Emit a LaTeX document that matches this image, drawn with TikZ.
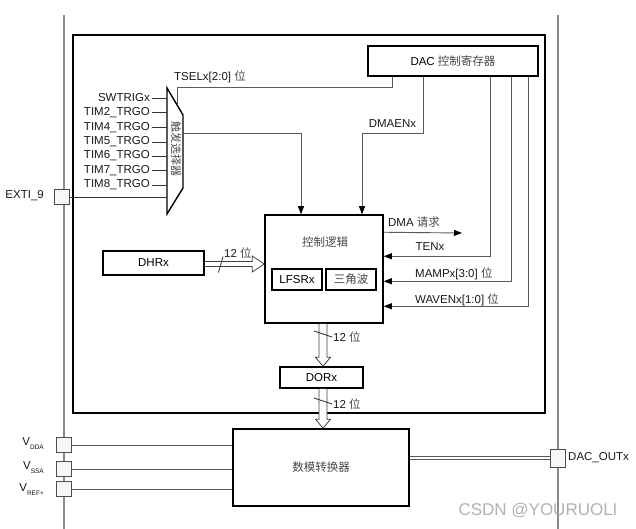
\documentclass[tikz,border=0pt]{standalone}
\usepackage{fontspec}
\setmainfont{Liberation Sans}
\newfontfamily\cjk{Noto Sans CJK SC}
\usetikzlibrary{arrows.meta,calc}
\newcommand\zh[1]{{\cjk\color{black!72}#1}}
\newcommand\labfont{\fontsize{11.5pt}{13pt}\selectfont}
\newcommand\subf[1]{\raisebox{-4pt}{\fontsize{6.5pt}{7pt}\selectfont #1}}
\tikzset{
  box/.style={draw=black, line width=1.5pt, inner sep=0pt, font=\labfont},
  pinbox/.style={draw=black!70, fill=black!3, line width=0.8pt, minimum width=15pt, minimum height=15pt, inner sep=0pt},
  conn/.style={draw=black!65, line width=0.9pt},
  arr/.style={conn, -{Triangle[length=8pt,width=6pt,color=black]}},
  inl/.style={draw=black!80, line width=0.8pt},
  lab/.style={font=\labfont, inner sep=0pt, text=black!90},
  bus/.style={draw=black!75, line width=0.8pt, fill=white, line join=miter},
  guide/.style={draw=black!45, line width=1.5pt},
}
\newcommand\vbus[2]{%
  \draw[bus] ($#1+(-4,0)$) -- ($#2+(-4,-9)$) -- ($#2+(-7.5,-9)$) -- #2 -- ($#2+(7.5,-9)$) -- ($#2+(4,-9)$) -- ($#1+(4,0)$);}
\newcommand\hbus[2]{%
  \draw[bus] ($#1+(0,-2.5)$) -- ($#2+(-12,-2.5)$) -- ($#2+(-12,-8)$) -- #2 -- ($#2+(-12,8)$) -- ($#2+(-12,2.5)$) -- ($#1+(0,2.5)$);}
\begin{document}
\begin{tikzpicture}[x=1pt,y=-1pt]
\useasboundingbox (0,0) rectangle (636,529);
% outer guide lines
\draw[guide] (64,15) -- (64,529);
\draw[guide] (558,15) -- (558,529);
% inner frame
\node[draw=black, line width=1.6pt, minimum width=472pt, minimum height=378pt, inner sep=0pt] (inner) at (309,224) {};
% register box
\node[box, minimum width=170pt, minimum height=30pt] (reg) at (453,61) {DAC \zh{控制寄存器}};
% control logic
\node[box, minimum width=118pt, minimum height=108pt] (ctrl) at (324,269) {};
\node[lab] (ctrltxt) at (325,242) {\zh{控制逻辑}};
\node[box, minimum width=50pt, minimum height=21pt] (lfsr) at (297,279.5) {LFSRx};
\node[box, minimum width=50pt, minimum height=21pt] (tri) at (351,279.5) {\zh{三角波}};
% DHR, DOR, converter
\node[box, minimum width=101pt, minimum height=24pt] (dhr) at (153.5,263) {DHRx};
\node[box, minimum width=83pt, minimum height=21pt] (dor) at (321.5,377.5) {DORx};
\node[box, minimum width=176pt, minimum height=77pt] (dac) at (321,467.5) {\zh{数模转换器}};
% mux
\coordinate (m1) at (167,88);
\coordinate (m2) at (183,115);
\coordinate (m3) at (183,188);
\coordinate (m4) at (167,214);
\draw[black, line width=1.4pt, line join=miter] (m1) -- (m2) -- (m3) -- (m4) -- cycle;
\node[rotate=-90, inner sep=0pt, font=\fontsize{11pt}{11pt}\selectfont] (muxtxt) at (176,149) {\zh{触发选择器}};
% inputs
\node[lab, anchor=east] (i1) at (150,98) {SWTRIGx};
\node[lab, anchor=east] (i2) at (150,112.5) {TIM2\_TRGO};
\node[lab, anchor=east] (i3) at (150,127.5) {TIM4\_TRGO};
\node[lab, anchor=east] (i4) at (150,142) {TIM5\_TRGO};
\node[lab, anchor=east] (i5) at (150,156) {TIM6\_TRGO};
\node[lab, anchor=east] (i6) at (150,170.5) {TIM7\_TRGO};
\node[lab, anchor=east] (i7) at (150,185) {TIM8\_TRGO};
\foreach \i in {1,...,7} {\draw[inl, shorten <=1.5pt] (i\i.east) -- (i\i.east -| m1);}
\node[pinbox] (exti) at (62,197) {};
\node[lab, anchor=east] (extil) at (44,196) {EXTI\_9};
\draw[inl] (exti.east) -- (exti.east -| m1);
% TSEL
\coordinate (tsel) at (177,104);
\draw[conn] ([xshift=25pt]reg.south west) |- (177,87) -- (tsel);
\node[lab, anchor=west] (tsell) at (174,77) {TSELx[2:0] \zh{位}};
% mux output
\coordinate (mo) at (183,133);
\draw[arr] (mo) -| ([xshift=-23pt]ctrl.north);
% DMAEN
\draw[arr] ([xshift=56pt]reg.south west) -- ++(0,57) -| ([xshift=38pt]ctrl.north);
\node[lab] (dmaenl) at (392.5,124) {DMAENx};
% DMA request
\coordinate (dmaend) at (462,233);
\draw[arr] ([yshift=-18pt]ctrl.north east) -- (dmaend);
\node[lab] (dmal) at (414,222) {DMA \zh{请求}};
% TEN, MAMP, WAVEN
\draw[arr] ([xshift=123pt]reg.south west) |- ([yshift=-42pt]ctrl.north east);
\draw[arr] ([xshift=144pt]reg.south west) |- ([yshift=-67pt]ctrl.north east);
\draw[arr] ([xshift=161pt]reg.south west) |- ([yshift=-92pt]ctrl.north east);
\node[lab] (tenl) at (430,247) {TENx};
\node[lab, anchor=west] (mampl) at (415,274) {MAMPx[3:0] \zh{位}};
\node[lab, anchor=west] (wavenl) at (415,300) {WAVENx[1:0] \zh{位}};
% buses
\coordinate (bx) at (323,0);
\coordinate (by) at (0,264);
\hbus{(dhr.east |- by)}{(ctrl.west |- by)}
\draw[black!80, line width=0.8pt] (218.5,272.5) -- (223,256.5);
\node[lab, anchor=west] (b1l) at (224,253) {12 \zh{位}};
\vbus{(ctrl.south -| bx)}{(dor.north -| bx)}
\draw[black!80, line width=0.8pt] (314,331) -- (332,337);
\node[lab, anchor=west] (b2l) at (333,337) {12 \zh{位}};
\vbus{(dor.south -| bx)}{(dac.north -| bx)}
\draw[black!80, line width=0.8pt] (314,398) -- (332,404);
\node[lab, anchor=west] (b3l) at (333,404) {12 \zh{位}};
% power pins
\node[pinbox] (vdda) at (64,445) {};
\node[pinbox] (vssa) at (64,469) {};
\node[pinbox] (vref) at (64,489) {};
\draw[conn, line width=0.8pt] (vdda.east) -- (vdda.east -| dac.west);
\draw[conn, line width=0.8pt] (vssa.east) -- (vssa.east -| dac.west);
\draw[conn, line width=0.8pt] (vref.east) -- (vref.east -| dac.west);
\node[lab, anchor=east] (vddal) at (44,444) {V\subf{DDA}};
\node[lab, anchor=east] (vssal) at (44,468) {V\subf{SSA}};
\node[lab, anchor=east] (vrefl) at (44,490) {V\subf{REF+}};
% output pin
\node[pinbox, minimum height=18pt] (out) at (558,458) {};
\draw[draw=black!65, line width=0.7pt, double=white, double distance=2.5pt] (dac.east |- out.west) -- (out.west);
\node[lab, anchor=west] (outl) at (568,458) {DAC\_OUTx};
% watermark
\node[inner sep=0pt, text=black!30, font=\fontsize{17pt}{18pt}\selectfont] (wm) at (538,511) {CSDN @YOURUOLI};
\end{tikzpicture}
\end{document}
